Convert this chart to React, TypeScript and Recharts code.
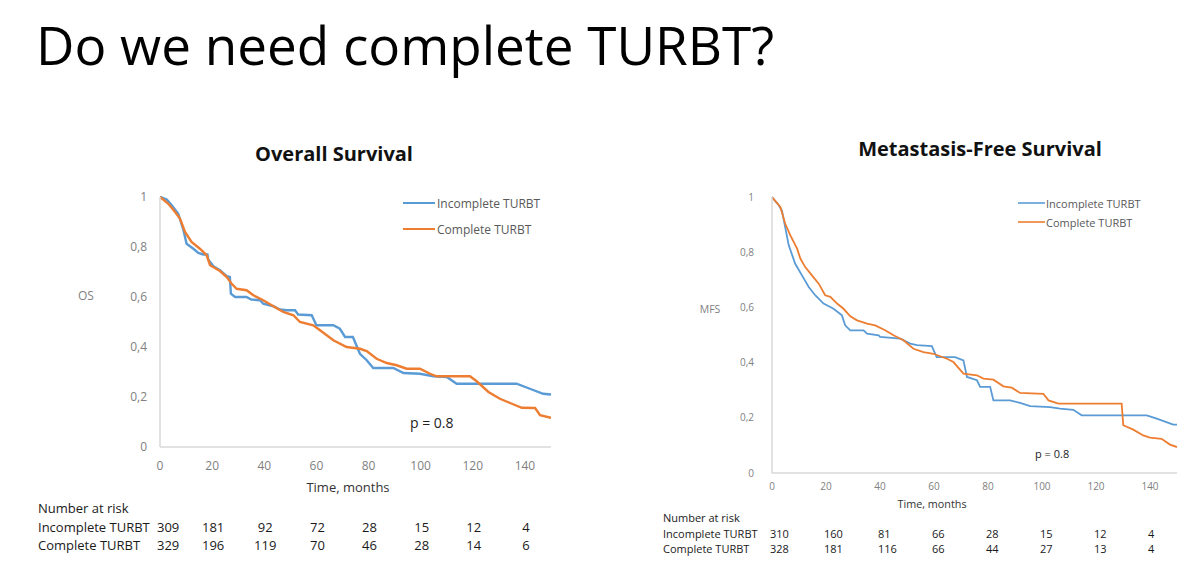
import React from 'react';
import { LineChart, Line, XAxis, YAxis } from 'recharts';

const FONT = '"Open Sans", sans-serif';
const BLUE = '#5B9BD5';
const ORANGE = '#ED7D31';

// ---- Data ----
const xTicks = [0, 20, 40, 60, 80, 100, 120, 140];
const yTicks = [0, 0.2, 0.4, 0.6, 0.8, 1];

const osIncTime = [0, 2.6, 4.5, 7, 9, 10.2, 12.8, 14.7, 16.6, 18.2, 18.5, 20.5, 23, 25.6, 26.8, 27.2, 28.8, 33.2, 35, 38.4, 39.6, 43.5, 46, 48.6, 51.8, 53, 58.2, 60, 66.5, 69, 71, 74, 76.7, 79.3, 81.8, 89.5, 93.4, 99.7, 104.9, 110, 113.8, 136.8, 141.9, 147, 150];
const osIncSurv = [1, 0.99, 0.967, 0.933, 0.867, 0.813, 0.793, 0.776, 0.77, 0.77, 0.75, 0.723, 0.707, 0.683, 0.68, 0.613, 0.6, 0.6, 0.59, 0.587, 0.573, 0.563, 0.55, 0.547, 0.547, 0.53, 0.527, 0.487, 0.487, 0.473, 0.44, 0.44, 0.373, 0.347, 0.316, 0.316, 0.296, 0.293, 0.283, 0.28, 0.253, 0.253, 0.233, 0.213, 0.21];

const osCompTime = [0, 3.2, 5.8, 7.7, 9.6, 12.1, 15.3, 17.9, 19.2, 23, 25.6, 27.5, 29.4, 33.2, 35.8, 39.6, 43.5, 47.3, 51.2, 53.7, 58.8, 61.4, 66.5, 71.6, 76.7, 79.3, 83.1, 87, 90.8, 94.6, 99.7, 103.6, 106.1, 118.9, 121.5, 126, 130.4, 134.3, 138.8, 143.9, 145.8, 150];
const osCompSurv = [1, 0.973, 0.94, 0.913, 0.86, 0.82, 0.793, 0.767, 0.727, 0.704, 0.68, 0.653, 0.633, 0.627, 0.607, 0.587, 0.563, 0.54, 0.527, 0.5, 0.487, 0.467, 0.427, 0.4, 0.393, 0.384, 0.353, 0.336, 0.327, 0.313, 0.313, 0.293, 0.283, 0.283, 0.263, 0.22, 0.193, 0.176, 0.157, 0.156, 0.127, 0.117];

const mfsIncTime = [0, 2.5, 3.7, 4.9, 6.2, 8.6, 11.1, 13.6, 16, 19.1, 22.8, 25.9, 27.1, 29, 33.9, 35.2, 39.5, 40, 47.5, 51.2, 53.7, 59.2, 61, 67.8, 70.9, 72.2, 75.9, 77.1, 80.8, 82, 88.2, 91.9, 95.6, 103, 106.7, 111.6, 114.7, 138.8, 142.5, 148.6, 150];
const mfsIncSurv = [1, 0.97, 0.95, 0.89, 0.825, 0.758, 0.716, 0.674, 0.644, 0.614, 0.595, 0.571, 0.535, 0.517, 0.517, 0.505, 0.499, 0.493, 0.487, 0.469, 0.463, 0.46, 0.42, 0.42, 0.408, 0.348, 0.336, 0.312, 0.312, 0.263, 0.263, 0.254, 0.242, 0.239, 0.233, 0.229, 0.209, 0.209, 0.197, 0.175, 0.175];

const mfsCompTime = [0, 3.1, 4.9, 6.8, 9.3, 10.5, 12.3, 14.8, 17.3, 19.7, 21.6, 24.1, 26.5, 29, 31.5, 35.2, 38.2, 41.9, 45, 48.7, 52.4, 56.1, 59.8, 64.8, 67.2, 70.9, 75.9, 78.3, 82, 85.7, 88.8, 91.9, 100.5, 102.4, 106.1, 129.5, 130.1, 133.8, 137.5, 140, 144.3, 147.4, 150];
const mfsCompSurv = [1, 0.964, 0.903, 0.861, 0.813, 0.777, 0.746, 0.716, 0.686, 0.644, 0.638, 0.614, 0.595, 0.568, 0.553, 0.541, 0.535, 0.517, 0.499, 0.481, 0.45, 0.438, 0.432, 0.414, 0.402, 0.36, 0.354, 0.342, 0.338, 0.314, 0.309, 0.29, 0.287, 0.263, 0.251, 0.251, 0.173, 0.157, 0.136, 0.128, 0.124, 0.103, 0.094];

const osRiskInc = [309, 181, 92, 72, 28, 15, 12, 4];
const osRiskComp = [329, 196, 119, 70, 46, 28, 14, 6];
const mfsRiskInc = [310, 160, 81, 66, 28, 15, 12, 4];
const mfsRiskComp = [328, 181, 116, 66, 44, 27, 13, 4];

const seriesNames = ['Incomplete TURBT', 'Complete TURBT'];

const toPoints = (t: number[], s: number[]) => t.map((tt, i) => ({ t: tt, v: s[i] }));

const fmtY = (v: number) => (v === 0 ? '0' : v === 1 ? '1' : v.toFixed(1).replace('.', ','));

type PanelProps = {
  left: number; top: number; width: number; height: number;
  margin: { top: number; right: number; bottom: number; left: number };
  xAxisHeight: number; yAxisWidth: number;
  tickFont: number; xTickMargin: number; yTickMargin: number;
  strokeW: number;
  inc: { t: number; v: number }[]; comp: { t: number; v: number }[];
};

function Panel(p: PanelProps) {
  return (
    <div style={{ position: 'absolute', left: p.left, top: p.top }}>
      <LineChart width={p.width} height={p.height} margin={p.margin}>
        <XAxis
          type="number" dataKey="t" domain={[0, 150]} ticks={xTicks} allowDataOverflow
          height={p.xAxisHeight} tickSize={0} tickMargin={p.xTickMargin}
          axisLine={{ stroke: '#d9d9d9', strokeWidth: 1.5 }} tickLine={false}
          tick={{ fill: '#7f7f7f', fontSize: p.tickFont, fontFamily: FONT }}
        />
        <YAxis
          type="number" dataKey="v" domain={[0, 1]} ticks={yTicks} tickFormatter={fmtY}
          width={p.yAxisWidth} tickSize={0} tickMargin={p.yTickMargin}
          axisLine={{ stroke: '#d9d9d9', strokeWidth: 1.5 }} tickLine={false}
          tick={{ fill: '#7f7f7f', fontSize: p.tickFont, fontFamily: FONT }}
        />
        <Line data={p.inc} dataKey="v" name={seriesNames[0]} type="linear" stroke={BLUE} strokeWidth={p.strokeW} dot={false} isAnimationActive={false} />
        <Line data={p.comp} dataKey="v" name={seriesNames[1]} type="linear" stroke={ORANGE} strokeWidth={p.strokeW} dot={false} isAnimationActive={false} />
      </LineChart>
    </div>
  );
}

// plot geometry (derived from chart placement + margins)
const L = { left: 100, top: 170, width: 470, height: 330, margin: { top: 27, right: 19, bottom: 0, left: 20 }, xAxisHeight: 53, yAxisWidth: 40 };
const R = { left: 700, top: 170, width: 490, height: 345, margin: { top: 27, right: 13, bottom: 0, left: 32 }, xAxisHeight: 42, yAxisWidth: 40 };
const plotX = (g: typeof L) => g.left + g.margin.left + g.yAxisWidth;
const plotW = (g: typeof L) => g.width - g.margin.left - g.margin.right - g.yAxisWidth;
const xPos = (g: typeof L, t: number) => plotX(g) + (t / 150) * plotW(g);

const TXT = '#1a1a1a';

function LeftRiskRow({ values, y }: { values: number[]; y: number }) {
  return (
    <>
      {xTicks.map((t, i) => (
        <text key={i} x={i === 0 ? xPos(L, t) - 3 : xPos(L, t) + 1} y={y} fontSize={13} textAnchor={i === 0 ? 'start' : 'middle'} dominantBaseline="central" fill={TXT}>{values[i]}</text>
      ))}
    </>
  );
}

export default function App() {
  return (
    <div style={{ position: 'absolute', left: 0, top: 0, width: 1200, height: 580, background: '#fff', overflow: 'hidden', fontFamily: FONT }}>
      <Panel {...L} tickFont={12} xTickMargin={14} yTickMargin={13} strokeW={2.4}
        inc={toPoints(osIncTime, osIncSurv)} comp={toPoints(osCompTime, osCompSurv)} />
      <Panel {...R} tickFont={10} xTickMargin={10} yTickMargin={18} strokeW={1.8}
        inc={toPoints(mfsIncTime, mfsIncSurv)} comp={toPoints(mfsCompTime, mfsCompSurv)} />
      <svg width={1200} height={580} style={{ position: 'absolute', left: 0, top: 0, pointerEvents: 'none' }} fontFamily={FONT}>
        <text x={36} y={65} fontSize={53} fill="#000">Do we need complete TURBT?</text>
        <text x={334} y={153} fontSize={20} fontWeight="bold" textAnchor="middle" dominantBaseline="central" fill="#111">Overall Survival</text>
        <text x={980} y={148} fontSize={20} fontWeight="bold" textAnchor="middle" dominantBaseline="central" fill="#111">Metastasis-Free Survival</text>

        {/* y labels */}
        <text x={86} y={295} fontSize={12} textAnchor="middle" dominantBaseline="central" fill="#7f7f7f">OS</text>
        <text x={710} y={309} fontSize={10.5} textAnchor="middle" dominantBaseline="central" fill="#7f7f7f">MFS</text>

        {/* x labels */}
        <text x={348} y={487} fontSize={13} textAnchor="middle" dominantBaseline="central" fill="#333">Time, months</text>
        <text x={932} y={503} fontSize={10.8} textAnchor="middle" dominantBaseline="central" fill="#333">Time, months</text>

        {/* legends */}
        <line x1={403} x2={435} y1={203} y2={203} stroke={BLUE} strokeWidth={2} />
        <text x={437} y={203} fontSize={12} dominantBaseline="central" fill="#595959">{seriesNames[0]}</text>
        <line x1={403} x2={435} y1={229} y2={229} stroke={ORANGE} strokeWidth={2} />
        <text x={437} y={229} fontSize={12} dominantBaseline="central" fill="#595959">{seriesNames[1]}</text>

        <line x1={1018} x2={1045} y1={203} y2={203} stroke={BLUE} strokeWidth={1.6} />
        <text x={1046} y={203} fontSize={11} dominantBaseline="central" fill="#595959">{seriesNames[0]}</text>
        <line x1={1018} x2={1045} y1={222} y2={222} stroke={ORANGE} strokeWidth={1.6} />
        <text x={1046} y={222} fontSize={11} dominantBaseline="central" fill="#595959">{seriesNames[1]}</text>

        {/* p values */}
        <text x={410} y={422} fontSize={14} dominantBaseline="central" fill="#222">p = 0.8</text>
        <text x={1035} y={453} fontSize={11} dominantBaseline="central" fill="#222">p = 0.8</text>

        {/* risk table left */}
        <text x={38} y={508} fontSize={13} dominantBaseline="central" fill={TXT}>Number at risk</text>
        <text x={38} y={527} fontSize={13} dominantBaseline="central" fill={TXT}>{seriesNames[0]}</text>
        <text x={38} y={545} fontSize={13} dominantBaseline="central" fill={TXT}>{seriesNames[1]}</text>
        <LeftRiskRow values={osRiskInc} y={527} />
        <LeftRiskRow values={osRiskComp} y={545} />

        {/* risk table right */}
        <text x={663} y={517} fontSize={11} dominantBaseline="central" fill={TXT}>Number at risk</text>
        <text x={663} y={533} fontSize={11} dominantBaseline="central" fill={TXT}>{seriesNames[0]}</text>
        <text x={663} y={548} fontSize={11} dominantBaseline="central" fill={TXT}>{seriesNames[1]}</text>
        {xTicks.map((t, i) => (
          <text key={'ri' + i} x={xPos(R, t) - 2} y={533} fontSize={11} dominantBaseline="central" fill={TXT}>{mfsRiskInc[i]}</text>
        ))}
        {xTicks.map((t, i) => (
          <text key={'rc' + i} x={xPos(R, t) - 2} y={548} fontSize={11} dominantBaseline="central" fill={TXT}>{mfsRiskComp[i]}</text>
        ))}
      </svg>
    </div>
  );
}
